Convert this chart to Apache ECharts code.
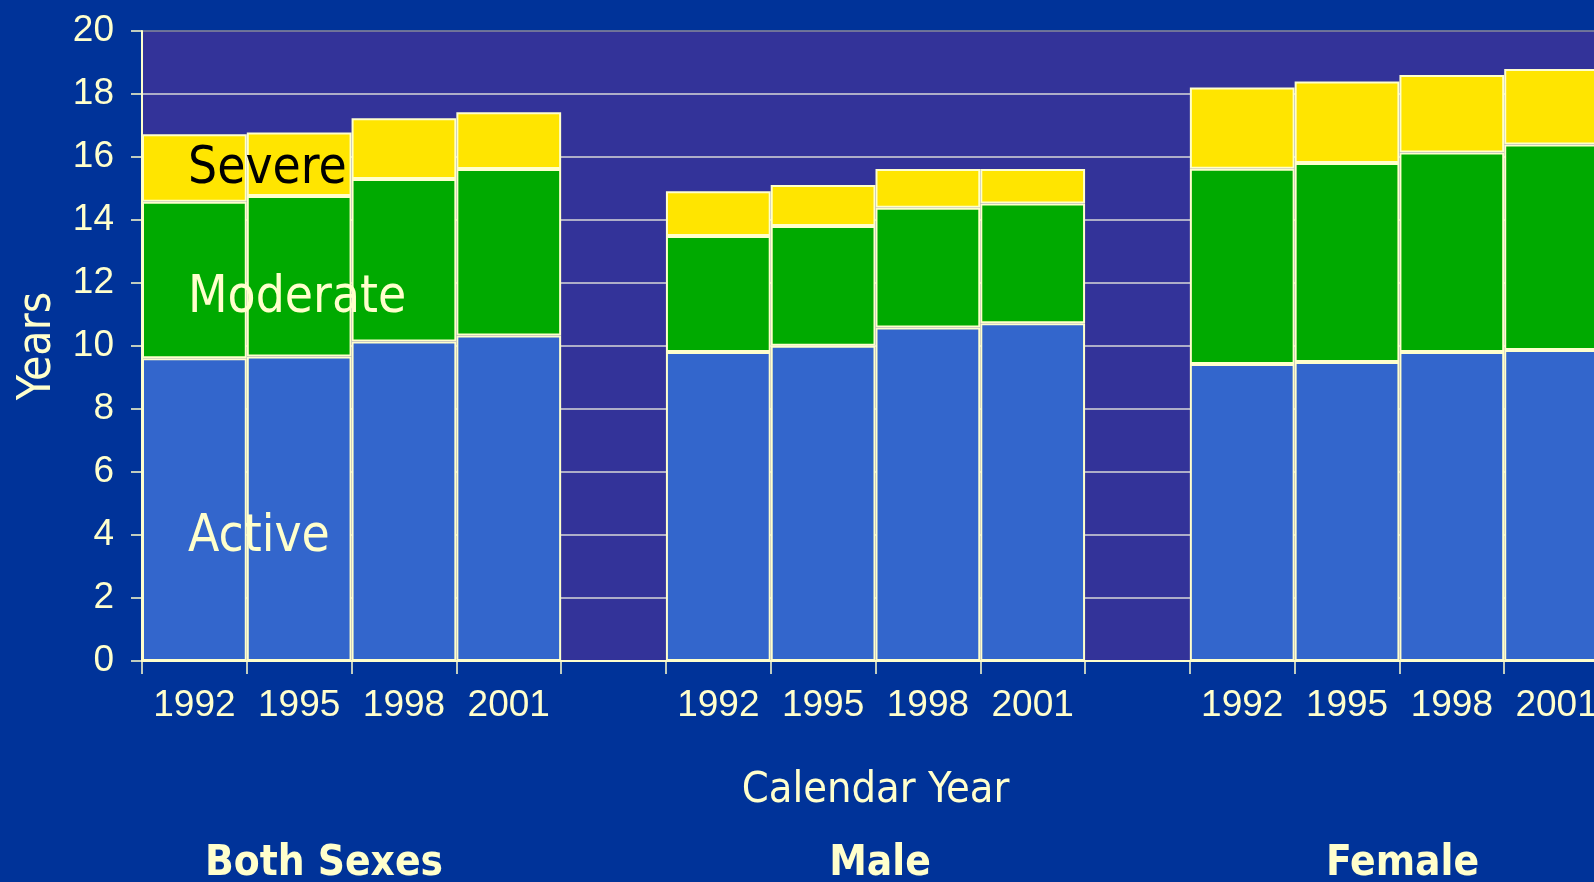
<!DOCTYPE html>
<html>
<head>
<meta charset="utf-8">
<style>
html,body{margin:0;padding:0;background:#003399;}
#chart{width:1594px;height:882px;}
</style>
<script src="https://cdn.jsdelivr.net/npm/echarts@6/dist/echarts.min.js"></script>
</head>
<body>
<div id="chart"></div>
<script>
// ---- data ----
var groups = ['Both Sexes', 'Male', 'Female'];
var years = ['1992', '1995', '1998', '2001'];
var yTicks = [0, 2, 4, 6, 8, 10, 12, 14, 16, 18, 20];
// segment heights (years), per group in order Both Sexes, Male, Female
var active   = [9.61, 9.67, 10.14, 10.33,  9.81, 10.01, 10.59, 10.72,  9.43, 9.49, 9.81, 9.87];
var moderate = [4.97, 5.09, 5.16, 5.29,   3.68, 3.80, 3.80, 3.80,     6.20, 6.32, 6.33, 6.53];
var severe   = [2.14, 2.02, 1.93, 1.80,   1.42, 1.30, 1.23, 1.10,     2.58, 2.59, 2.46, 2.39];
var segmentNames = ['Active', 'Moderate', 'Severe'];

// ---- build category axis with an empty slot between groups ----
var categories = [];
function withGaps(arr) {
  var out = [];
  groups.forEach(function (g, gi) {
    if (gi > 0) out.push(null);
    years.forEach(function (y, yi) { out.push(arr[gi * years.length + yi]); });
  });
  return out;
}
groups.forEach(function (g, gi) {
  if (gi > 0) categories.push('gap' + gi);
  years.forEach(function (y) { categories.push(g + '|' + y); });
});

var cream = '#FFFFCC';
var condensed = '"DejaVu Sans Condensed", "DejaVu Sans", sans-serif';
var chart = echarts.init(document.getElementById('chart'));

var colors = ['#3366CC', '#00AA00', '#FFE500'];
var values = [active, moderate, severe];

var series = segmentNames.map(function (name, i) {
  return {
    name: name,
    type: 'bar',
    stack: 'total',
    barWidth: '100%',
    barCategoryGap: '0%',
    data: withGaps(values[i]),
    itemStyle: { color: colors[i], borderColor: cream, borderWidth: 2 },
    emphasis: { disabled: true },
    animation: false
  };
});

var gridColors = yTicks.map(function (t, i) { return i === yTicks.length - 1 ? '#8A8A9A' : '#D8D8D8'; });

chart.setOption({
  backgroundColor: '#003399',
  animation: false,
  grid: {
    left: 142, top: 31, width: 1467, height: 630,
    outerBoundsMode: 'none',
    containLabel: false,
    show: true, backgroundColor: '#333399', borderWidth: 0
  },
  xAxis: {
    type: 'category',
    data: categories,
    boundaryGap: true,
    name: 'Calendar Year',
    nameLocation: 'middle',
    nameGap: 108,
    nameTextStyle: { color: cream, fontSize: 43, fontFamily: condensed },
    axisLine: { show: true, lineStyle: { color: cream, width: 2 } },
    axisTick: { show: true, interval: 0, length: 13, lineStyle: { color: cream, width: 1.5 } },
    axisLabel: {
      interval: 0, margin: 26, color: cream, fontSize: 37,
      fontFamily: '"Liberation Sans", Arial, sans-serif',
      formatter: function (v) { return v.indexOf('|') >= 0 ? v.split('|')[1] : ''; }
    },
    splitLine: { show: false }
  },
  yAxis: {
    type: 'value',
    min: yTicks[0], max: yTicks[yTicks.length - 1], interval: yTicks[1] - yTicks[0],
    name: 'Years',
    nameLocation: 'middle',
    nameRotate: 90,
    nameGap: 81,
    nameTextStyle: { color: cream, fontSize: 46, fontFamily: condensed },
    axisLine: { show: true, lineStyle: { color: cream, width: 2 } },
    axisTick: { show: true, length: 11, inside: false, lineStyle: { color: cream, width: 1.5 } },
    axisLabel: { margin: 28, color: cream, fontSize: 37, fontFamily: '"Liberation Sans", Arial, sans-serif' },
    splitLine: { show: true, lineStyle: { color: gridColors, width: 1.5 } }
  },
  series: series,
  graphic: [
    { type: 'text', left: 188, top: 164.5 - 20, z: 100,
      style: { text: 'Severe', fill: '#000000', fontSize: 51, fontFamily: condensed } },
    { type: 'text', left: 188, top: 292 - 19, z: 100,
      style: { text: 'Moderate', fill: cream, fontSize: 51, fontFamily: condensed } },
    { type: 'text', left: 188, top: 532.5 - 20, z: 100,
      style: { text: 'Active', fill: cream, fontSize: 51, fontFamily: condensed } },
    { type: 'text', x: 324, y: 864, z: 100,
      style: { text: groups[0], fill: cream, fontSize: 42, fontWeight: 'bold', fontFamily: condensed, align: 'center', verticalAlign: 'middle' } },
    { type: 'text', x: 880, y: 864, z: 100,
      style: { text: groups[1], fill: cream, fontSize: 42, fontWeight: 'bold', fontFamily: condensed, align: 'center', verticalAlign: 'middle' } },
    { type: 'text', x: 1402.5, y: 864, z: 100,
      style: { text: groups[2], fill: cream, fontSize: 42, fontWeight: 'bold', fontFamily: condensed, align: 'center', verticalAlign: 'middle' } }
  ]
});
</script>
</body>
</html>
